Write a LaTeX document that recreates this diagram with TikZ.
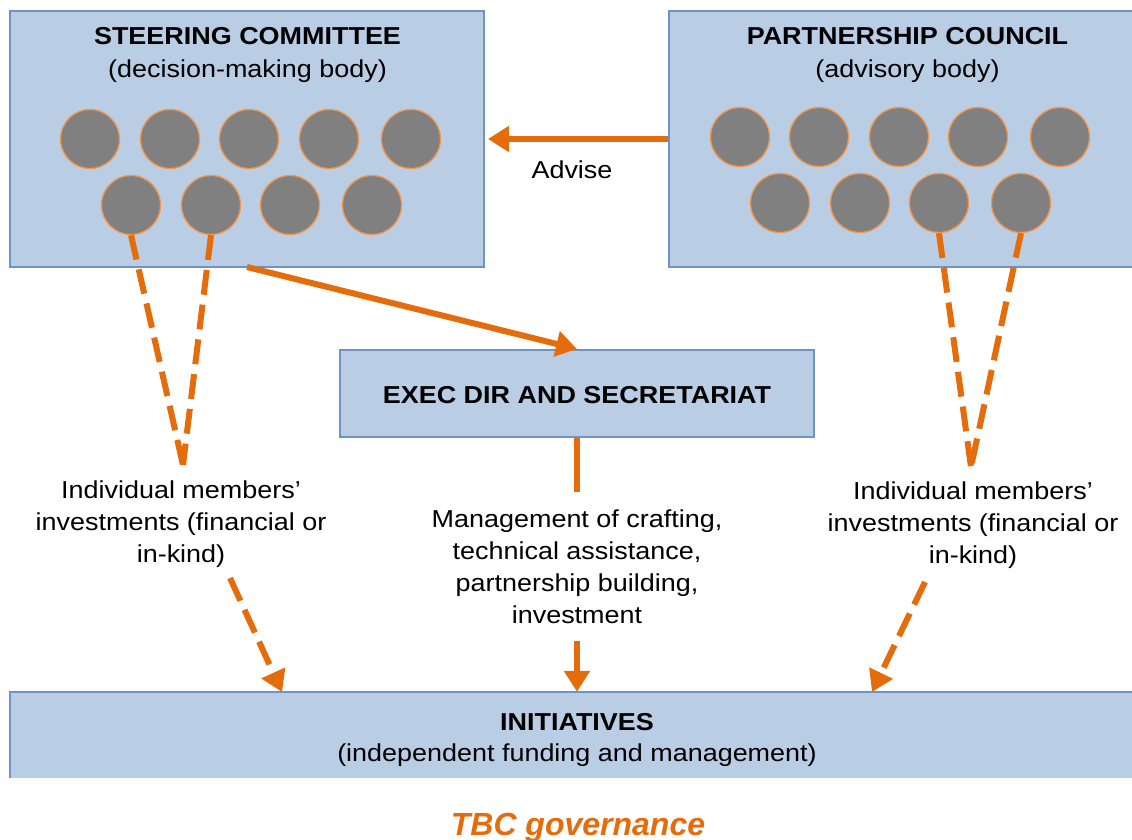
\documentclass[tikz,border=0pt]{standalone}
\usepackage{fontspec}
\setmainfont{Liberation Sans}[FakeStretch=1.1]
\newfontfamily\tbcfont{Liberation Sans}
\usetikzlibrary{arrows.meta}
\definecolor{boxfill}{HTML}{B9CDE5}
\definecolor{boxline}{HTML}{6F93C4}
\definecolor{org}{HTML}{E46C0A}
\definecolor{corg}{HTML}{F79646}
\definecolor{cgray}{HTML}{808080}
\begin{document}
\begin{tikzpicture}[x=1pt,y=-1pt,
  box/.style={draw=boxline, fill=boxfill, line width=2pt, inner sep=0pt, minimum width=474pt},
  member/.style={circle, fill=cgray, draw=corg, line width=1.3pt, minimum size=59pt, inner sep=0pt},
  tipstyle/.style={-{Triangle[length=21pt,width=25pt]}},
  flow/.style={draw=org, line width=6pt, tipstyle},
  dflow/.style={draw=org, line width=6pt, dash pattern=on 25pt off 10pt},
  lbl/.style={font=\fontsize{24.5}{32}\selectfont, align=center, inner sep=0pt},
  ttl/.style={font=\fontsize{24.5}{33}\selectfont, align=center, inner sep=0pt}
]
\clip (0,0) rectangle (1132,840);
\fill[white] (0,0) rectangle (1132,840);

% boxes
\node[box, minimum height=256pt] (steer) at (247,139) {};
\node[box, minimum height=256pt] (pc) at (906,139) {};
\node[box, minimum height=87pt] (exec) at (577,393.5) {};
\node[fill=boxfill, inner sep=0pt, minimum width=1130pt, minimum height=86pt] (init) at (575,735) {};
\draw[boxline, line width=2pt] (init.south west) -- (init.north west) -- (init.north east);

% titles
\node[ttl] (steerT) at (247.5,54.5) {\textbf{STEERING COMMITTEE}\\(decision-making body)};
\node[ttl] (pcT) at (907.5,54.5) {\textbf{PARTNERSHIP COUNCIL}\\(advisory body)};
\node[ttl] (execT) at (577,395) {\textbf{EXEC DIR AND SECRETARIAT}};
\node[ttl, font=\fontsize{24.5}{31}\selectfont] (initT) at (577,740) {\textbf{INITIATIVES}\\(independent funding and management)};

% members steering
\foreach \n/\x/\y in {1/90/139,2/170/139,3/249/139,4/329/139,5/411/139,6/131/205,7/211/205,8/290/205,9/372/205}
  \node[member] (s\n) at (\x,\y) {};
% members partnership
\foreach \n/\x/\y in {1/740/137,2/819/137,3/899/137,4/978/137,5/1060/137,6/780/203,7/860/203,8/939/203,9/1021/203}
  \node[member] (p\n) at (\x,\y) {};

% labels
\node[lbl] (adv) at (572,170) {Advise};
\node[lbl] (lblL) at (181,524) {Individual members’\\investments (financial or\\in-kind)};
\node[lbl] (lblR) at (973,525) {Individual members’\\investments (financial or\\in-kind)};
\node[lbl] (mgmt) at (577,566.5) {Management of crafting,\\technical assistance,\\partnership building,\\investment};
\node[inner sep=0pt, text=org, font=\tbcfont\bfseries\itshape\fontsize{32}{38}\selectfont] (tbc) at (578,828) {TBC governance};

% coordinates
\coordinate (vL) at (183,465);
\coordinate (vR) at (971,467);
\coordinate (aL) at (230,578);
\coordinate (tL) at (282,692);
\coordinate (aR) at (925,582);
\coordinate (tR) at (872,692);

% connectors
\draw[flow] (pc.west) -- ([xshift=3pt]steer.east);
\draw[flow] ([yshift=1pt]steer.south) -- (exec.north);
\draw[org, line width=6pt] (exec.south) -- ([yshift=17pt]mgmt.north);
\draw[flow] ([yshift=-17pt]mgmt.south) -- (init.north -| mgmt.south);

\draw[dflow] (s6.south) -- (vL);
\draw[dflow] (s7.south) -- (vL);
\draw[dflow] (p8.south) -- (vR);
\draw[dflow] (p9.south) -- (vR);
\draw[dflow, tipstyle] (aL) -- (tL);
\draw[dflow, tipstyle] (aR) -- (tR);
\end{tikzpicture}
\end{document}
